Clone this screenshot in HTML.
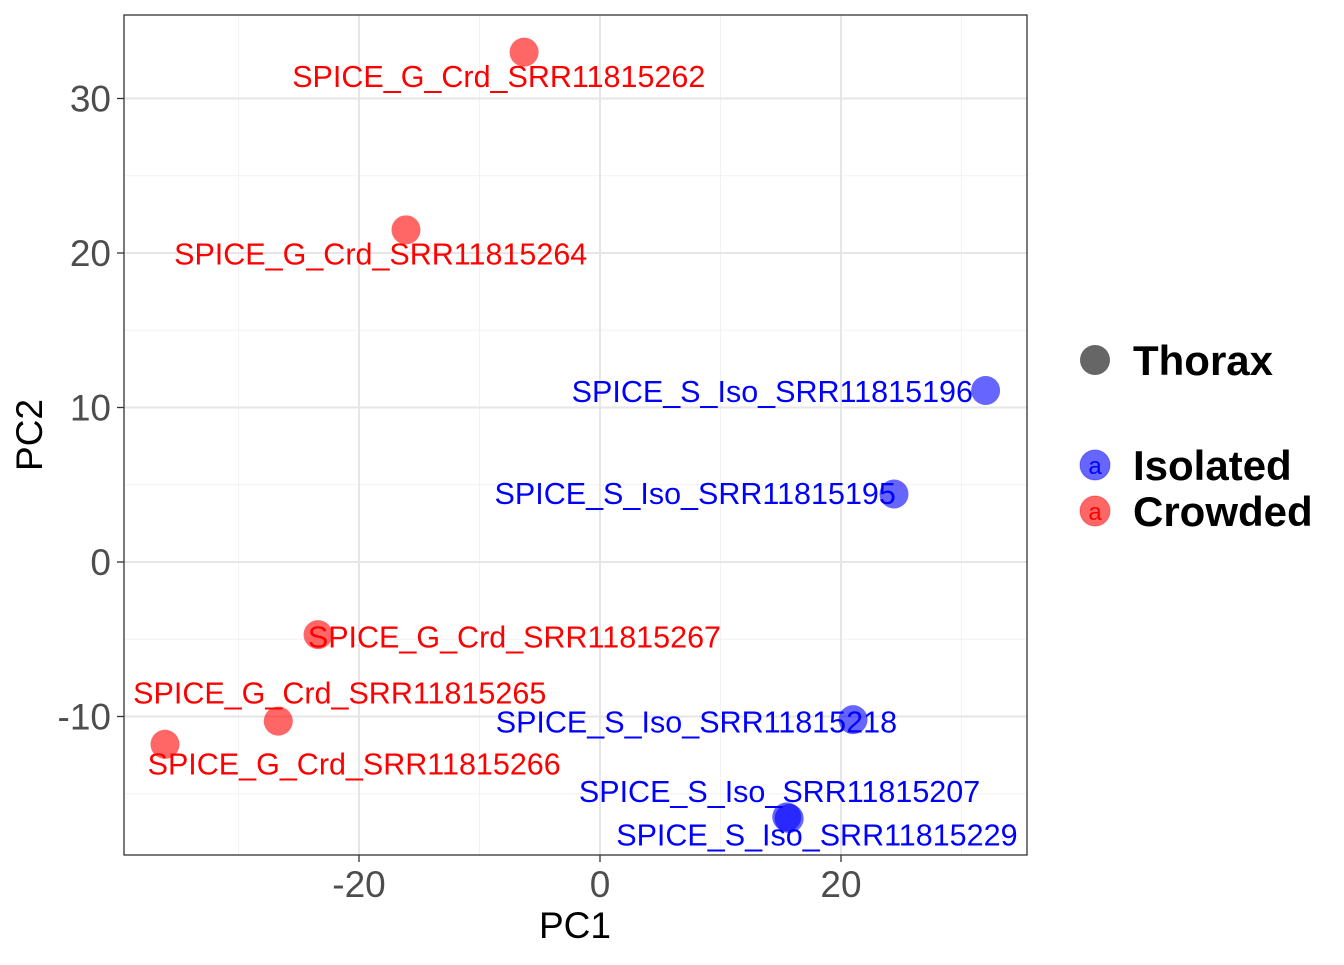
<!DOCTYPE html>
<html><head><meta charset="utf-8"><style>
body{margin:0;background:#fff}
svg{font-family:"Liberation Sans",Arial,sans-serif}
</style></head><body>
<svg id="chart" width="1344" height="960" viewBox="0 0 1344 960">
<g id="grid"></g>
<g id="marks"></g>
<rect x="124" y="15" width="903" height="840" fill="none" stroke="#333" stroke-width="1.3"/>
<g id="axes"></g>
<text x="575" y="938" font-size="37" text-anchor="middle">PC1</text>
<text transform="translate(42,435) rotate(-90)" font-size="37" text-anchor="middle">PC2</text>
<g>
<circle cx="1095" cy="360" r="15" fill="#555" opacity="0.9"/>
<text x="1133" y="375" font-size="42" font-weight="bold">Thorax</text>
<circle cx="1095" cy="465" r="15" fill="#0000ff" fill-opacity="0.6" stroke="#0000ff" stroke-opacity="0.4"/>
<text x="1095" y="474" font-size="24" fill="#0000ff" text-anchor="middle">a</text>
<text x="1133" y="480" font-size="42" font-weight="bold">Isolated</text>
<circle cx="1095" cy="511" r="15" fill="#ff0000" fill-opacity="0.6" stroke="#ff0000" stroke-opacity="0.4"/>
<text x="1095" y="520" font-size="24" fill="#ff0000" text-anchor="middle">a</text>
<text x="1133" y="526" font-size="42" font-weight="bold">Crowded</text>
</g>
</svg>
<script>
const names=["SPICE_G_Crd_SRR11815262","SPICE_G_Crd_SRR11815264","SPICE_G_Crd_SRR11815267","SPICE_G_Crd_SRR11815265","SPICE_G_Crd_SRR11815266","SPICE_S_Iso_SRR11815196","SPICE_S_Iso_SRR11815195","SPICE_S_Iso_SRR11815218","SPICE_S_Iso_SRR11815207","SPICE_S_Iso_SRR11815229"];
const groups=["Crowded","Crowded","Crowded","Crowded","Crowded","Isolated","Isolated","Isolated","Isolated","Isolated"];
const pc1=[-6.3,-16.1,-23.4,-26.7,-36.1,32.0,24.4,21.0,15.5,15.7];
const pc2=[33.0,21.5,-4.7,-10.3,-11.8,11.1,4.4,-10.2,-16.5,-16.6];
const labelX=[-8.4,-18.2,-7.1,-21.6,-20.4,14.3,7.9,8.0,14.9,18.0];
const labelY=[31.4,19.9,-4.9,-8.5,-13.1,11.0,4.4,-10.4,-14.9,-17.7];
const xMajor=[-20,0,20], xMinor=[-30,-10,10,30];
const yMajor=[-10,0,10,20,30], yMinor=[-15,-5,5,15,25];
const xTickLabels=["-20","0","20"], yTickLabels=["-10","0","10","20","30"];
const X=v=>600+v*12.05, Y=v=>562-v*15.45;
const NS="http://www.w3.org/2000/svg";
function mk(parent,tag,attrs){const e=document.createElementNS(NS,tag);for(const k in attrs)e.setAttribute(k,attrs[k]);parent.appendChild(e);return e;}
const grid=document.getElementById('grid'),axes=document.getElementById('axes'),marks=document.getElementById('marks');
xMinor.forEach(v=>{const l=mk(grid,'line',{x1:X(v),x2:X(v),y1:15,y2:855,stroke:'#f2f2f2','stroke-width':1});

});
yMinor.forEach(v=>{const l=mk(grid,'line',{x1:124,x2:1027,y1:Y(v),y2:Y(v),stroke:'#f2f2f2','stroke-width':1});

});
xMajor.forEach((v,i)=>{const l=mk(grid,'line',{x1:X(v),x2:X(v),y1:15,y2:855,stroke:'#e6e6e6','stroke-width':2});


const t=mk(axes,'line',{x1:X(v),x2:X(v),y1:855,y2:862,stroke:'#333','stroke-width':1.3});


const tx=mk(axes,'text',{x:X(v),y:897,'font-size':37,'text-anchor':'middle',fill:'#4d4d4d'});tx.textContent=xTickLabels[i];

});
yMajor.forEach((v,i)=>{const l=mk(grid,'line',{x1:124,x2:1027,y1:Y(v),y2:Y(v),stroke:'#e6e6e6','stroke-width':2});


const t=mk(axes,'line',{x1:117,x2:124,y1:Y(v),y2:Y(v),stroke:'#333','stroke-width':1.3});


const tx=mk(axes,'text',{x:111,y:Y(v)+13,'font-size':37,'text-anchor':'end',fill:'#4d4d4d'});tx.textContent=yTickLabels[i];

});
pc1.forEach((v,i)=>{const col=groups[i]==="Crowded"?'#ff0000':'#0000ff';
const c=mk(marks,'circle',{cx:X(v),cy:Y(pc2[i]),r:14.5,fill:col,'fill-opacity':0.6});

});
pc1.forEach((v,i)=>{const col=groups[i]==="Crowded"?'#ff0000':'#0000ff';
const t=mk(marks,'text',{x:X(labelX[i]),y:Y(labelY[i])+10,'font-size':30.5,'text-anchor':'middle',fill:col});t.textContent=names[i];

});
</script>
</body></html>
